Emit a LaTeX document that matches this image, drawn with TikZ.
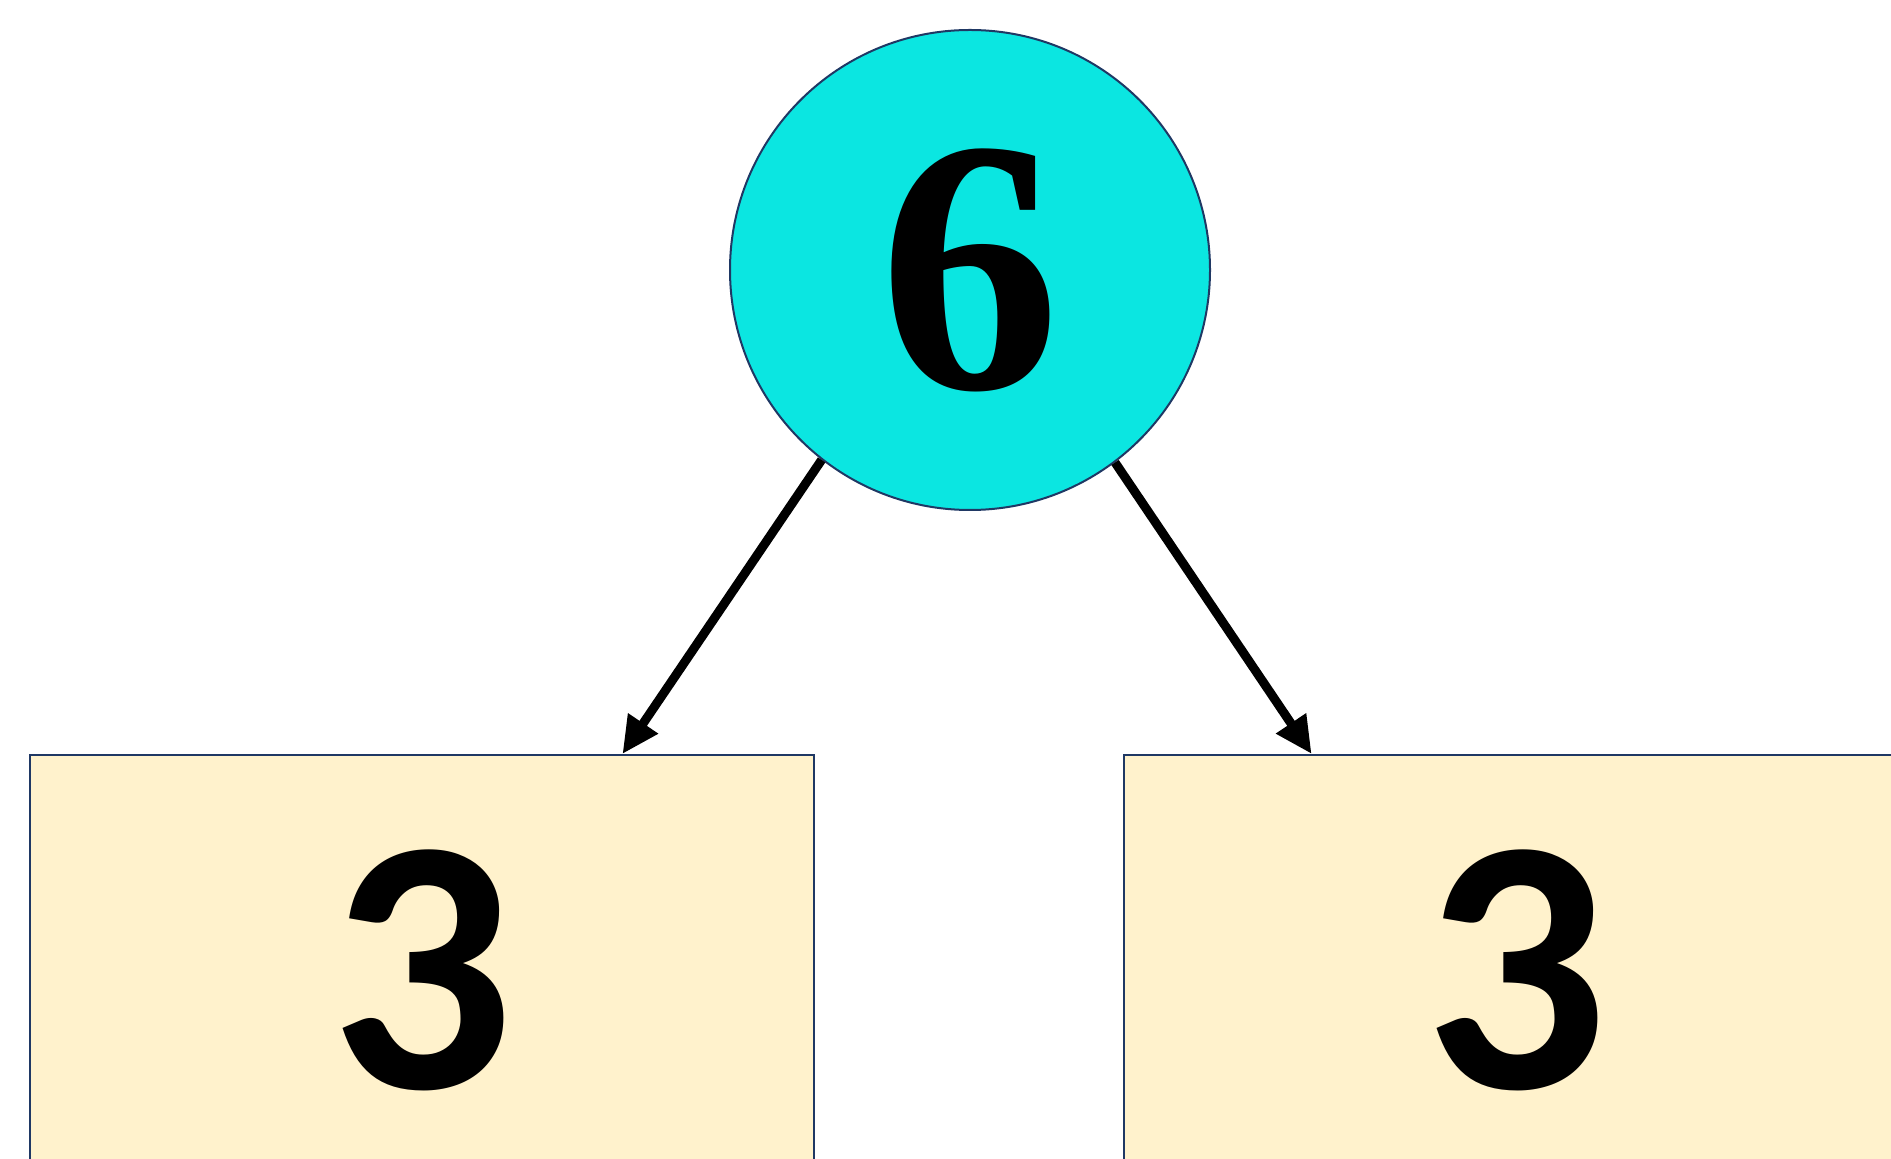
\documentclass[tikz,border=0pt]{standalone}
\usepackage{fontspec}
\usetikzlibrary{arrows.meta,calc}
\newfontfamily\numsans{Carlito}
\newfontfamily\numserif{Liberation Serif}
\definecolor{cyanfill}{RGB}{11,230,225}
\definecolor{boxfill}{RGB}{255,242,204}
\definecolor{navy}{RGB}{31,56,100}
\tikzset{
  rootnode/.style={circle, draw=navy, line width=1pt, fill=cyanfill, minimum size=480*0.5pt, inner sep=0pt,
    font=\numserif\bfseries\fontsize{181}{190}\selectfont},
  leafbox/.style={rectangle, draw=navy, line width=1pt, fill=boxfill, minimum width=784*0.5pt, minimum height=430*0.5pt, inner sep=0pt,
    font=\numsans\bfseries\fontsize{182}{190}\selectfont},
  edge/.style={line width=4.5pt, -{Triangle[length=18.5pt,width=17pt]}}
}
\begin{document}
\begin{tikzpicture}[x=0.5pt,y=-0.5pt]
\clip (0,0) rectangle (1891,1159);
\node[rootnode] (C) at (970,270) {6};
\node[leafbox] (L) at (422,970) {3};
\node[leafbox] (R) at (1516,970) {3};
\coordinate (le) at ($(L.north west)!0.755!(L.north east)$);
\coordinate (re) at ($(R.north west)!0.24!(R.north east)$);
\draw[edge] (C.232) -- (le);
\draw[edge] (C.307) -- (re);
\end{tikzpicture}
\end{document}
